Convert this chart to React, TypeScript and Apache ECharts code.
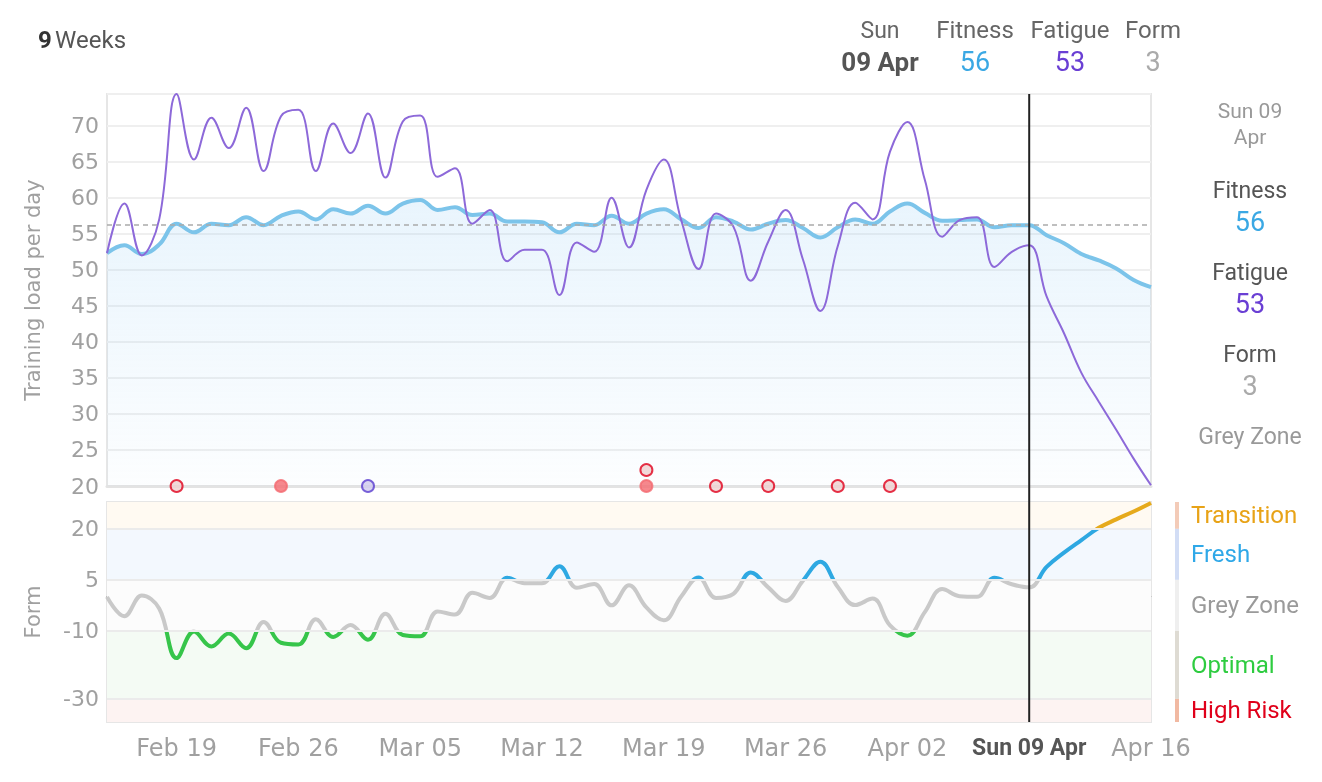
import React, { useEffect, useRef } from "react";
import * as echarts from "echarts";

// ---------- data ----------
const dates: string[] = [
  "Feb 15", "Feb 16", "Feb 17", "Feb 18", "Feb 19", "Feb 20", "Feb 21", "Feb 22", "Feb 23", "Feb 24",
  "Feb 25", "Feb 26", "Feb 27", "Feb 28", "Mar 01", "Mar 02", "Mar 03", "Mar 04", "Mar 05", "Mar 06",
  "Mar 07", "Mar 08", "Mar 09", "Mar 10", "Mar 11", "Mar 12", "Mar 13", "Mar 14", "Mar 15", "Mar 16",
  "Mar 17", "Mar 18", "Mar 19", "Mar 20", "Mar 21", "Mar 22", "Mar 23", "Mar 24", "Mar 25", "Mar 26",
  "Mar 27", "Mar 28", "Mar 29", "Mar 30", "Mar 31", "Apr 01", "Apr 02", "Apr 03", "Apr 04", "Apr 05",
  "Apr 06", "Apr 07", "Apr 08", "Apr 09", "Apr 10", "Apr 11", "Apr 12", "Apr 13", "Apr 14", "Apr 15",
  "Apr 16",
];

const fitness: number[] = [
  52.3, 53.4, 52.2, 53.5, 56.4, 55.2, 56.4, 56.2, 57.3, 56.2,
  57.5, 58.1, 57.0, 58.4, 57.8, 58.9, 57.8, 59.2, 59.7, 58.3,
  58.7, 57.6, 57.8, 56.7, 56.7, 56.6, 55.2, 56.4, 56.2, 57.5,
  56.4, 57.8, 58.4, 57.0, 55.8, 57.3, 56.7, 55.6, 56.4, 56.9,
  55.8, 54.5, 55.9, 57.0, 56.4, 58.1, 59.2, 57.9, 56.8, 56.9,
  57.0, 55.9, 56.2, 56.2, 54.8, 53.7, 52.2, 51.3, 50.2, 48.6,
  47.6,
];

const fatigue: number[] = [
  52.3, 59.2, 52.0, 57.0, 74.4, 65.3, 71.1, 66.9, 72.5, 63.7,
  71.3, 72.2, 63.7, 70.3, 66.2, 71.7, 62.8, 70.6, 71.4, 62.9,
  64.1, 56.4, 58.3, 51.2, 52.8, 52.8, 46.5, 53.8, 52.5, 60.0,
  53.1, 61.1, 65.3, 56.9, 50.1, 57.8, 56.0, 48.5, 53.9, 58.3,
  51.4, 44.3, 53.3, 59.3, 57.0, 66.4, 70.5, 62.5, 54.6, 56.9,
  57.3, 50.4, 52.5, 53.4, 46.3, 41.2, 35.7, 31.7, 27.8, 23.8,
  20.1,
];

const form: number[] = [
  0.0, -5.7, 0.4, -3.4, -18.0, -10.2, -14.6, -10.8, -15.1, -7.4,
  -13.5, -14.0, -6.6, -11.8, -8.3, -12.6, -5.0, -11.2, -11.6, -4.3,
  -5.2, 1.2, -0.3, 5.6, 4.0, 4.0, 9.0, 2.7, 3.8, -2.5,
  3.4, -3.1, -6.9, 0.1, 5.7, -0.3, 0.9, 7.2, 2.8, -1.2,
  4.8, 10.3, 2.9, -2.4, -0.5, -8.4, -11.4, -4.5, 2.3, 0.2,
  0.0, 5.6, 3.7, 2.8, 8.8, 13.0, 16.7, 20.3, 22.8, 25.1,
  27.6,
];

const weekTicks: string[] = ["Feb 19", "Feb 26", "Mar 05", "Mar 12", "Mar 19", "Mar 26", "Apr 02", "Apr 09", "Apr 16"];

const selectedDate = "Apr 09";
const selectedWeekday = "Sun";
const selectedDayLabel = "09 Apr";
const selectedAxisLabel = "Sun 09 Apr";
const rangeLabelCount = "9";
const rangeLabelUnit = "Weeks";

const loadMin = 20;
const loadMax = 74.4;
const loadInterval = 5;

const formMin = -36.8;
const formMax = 27.9;
const formTicks: number[] = [20, 5, -10, -30];

const zoneNames: string[] = ["Transition", "Fresh", "Grey Zone", "Optimal", "High Risk"];
const zoneLineColors: string[] = ["#e6aa1c", "#2ea8e2", "#c9c9c9", "#36c54a", "#e0001b"];
const zoneBandColors: string[] = ["#fffaf2", "#f3f8fe", "#fcfcfc", "#f4fbf4", "#fdf3f2"];
const zoneTextColors: string[] = ["#e8a317", "#2fa8e8", "#9a9a9a", "#2ecc40", "#e0001a"];
const zoneStripColors: string[] = ["#f3cbb8", "#d2ddf5", "#efefef", "#dedbd3", "#f1b9a2"];

const eventDates: string[] = ["Feb 19", "Feb 25", "Mar 02", "Mar 18", "Mar 18", "Mar 22", "Mar 25", "Mar 29", "Apr 01"];
const eventKinds: string[] = ["planned", "done", "other", "done", "planned", "planned", "planned", "planned", "planned"];

// ---------- component ----------
export default function App() {
  const ref = useRef<HTMLDivElement>(null);

  useEffect(() => {
    const chart = echarts.init(ref.current!, null, { renderer: "svg" });
    const uiFont = "Roboto, 'Noto Sans', sans-serif";
    const axisFont = "'DejaVu Sans', sans-serif";
    const selIdx = dates.indexOf(selectedDate);

    const zoneUpper = [formMax, ...formTicks];
    const zoneLower = [...formTicks, formMin];

    const zoneOf = (v: number) => {
      for (let k = 0; k < zoneNames.length; k++) if (v >= zoneLower[k]) return k;
      return zoneNames.length - 1;
    };

    const isTick = (_i: number, v: string) => weekTicks.includes(v);

    const eventStyles: Record<string, any> = {
      planned: { color: "#efd0d0", borderColor: "#e0001b", borderWidth: 2 },
      done: { color: "#f46a70", borderColor: "#f46a70", borderWidth: 2 },
      other: { color: "#cfcaee", borderColor: "#5a3dd0", borderWidth: 2 },
    };
    const seen: Record<string, number> = {};
    const eventData = eventDates.map((d, k) => {
      const level = seen[d] || 0;
      seen[d] = level + 1;
      return {
        value: [d, loadMin],
        symbolOffset: [0, -16 * level],
        itemStyle: eventStyles[eventKinds[k]],
      };
    });

    const option: any = {
      animation: false,
      textStyle: { fontFamily: uiFont },
      grid: [
        { left: 107, top: 94, width: 1044, height: 392, show: true, borderColor: "#e6e6e6", borderWidth: 2, backgroundColor: "transparent" },
        { left: 107, top: 502, width: 1044, height: 220, show: true, borderColor: "#e6e6e6", borderWidth: 2, backgroundColor: "transparent" },
      ],
      xAxis: [
        {
          type: "category", gridIndex: 0, data: dates, boundaryGap: false,
          axisLine: { show: true, lineStyle: { color: "#e3e3e3", width: 3 } },
          axisTick: { show: false }, axisLabel: { show: false }, splitLine: { show: false },
        },
        {
          type: "category", gridIndex: 1, data: dates, boundaryGap: false,
          axisLine: { show: true, lineStyle: { color: "#b3b3b3", width: 2 } },
          axisTick: { show: true, interval: isTick, length: 11, lineStyle: { color: "#e6e6e6", width: 2 } },
          axisLabel: {
            interval: isTick, margin: 14, fontSize: 24, color: "#a0a0a0", fontFamily: axisFont,
            formatter: (v: string) => (v === selectedDate ? `{sel|${selectedAxisLabel}}` : v),
            rich: { sel: { fontFamily: uiFont, fontWeight: "bold", fontSize: 23, color: "#555555" } },
          },
          splitLine: { show: false },
        },
      ],
      yAxis: [
        {
          type: "value", gridIndex: 0, min: loadMin, max: loadMax, interval: loadInterval,
          name: "Training load per day", nameLocation: "middle", nameGap: 64,
          nameTextStyle: { fontSize: 21, color: "#a0a0a0", fontFamily: axisFont },
          axisLine: { show: false }, axisTick: { show: false },
          axisLabel: { fontSize: 22, color: "#a0a0a0", margin: 8, showMaxLabel: false, fontFamily: axisFont },
          splitLine: { show: true, lineStyle: { color: "#efefef", width: 2 } },
        },
        {
          type: "value", gridIndex: 1, min: formMin, max: formMax,
          name: "Form", nameLocation: "middle", nameGap: 64,
          nameTextStyle: { fontSize: 21, color: "#a0a0a0", fontFamily: axisFont },
          axisLine: { show: false }, axisTick: { show: false, customValues: formTicks },
          axisLabel: { fontSize: 22, color: "#a0a0a0", margin: 8, customValues: formTicks, fontFamily: axisFont },
          splitLine: { show: false },
        },
      ],
      visualMap: [
        {
          show: false, type: "piecewise", seriesIndex: 2, dimension: 1,
          pieces: zoneNames.map((_n, k) => {
            const p: any = { color: zoneLineColors[k] };
            if (k < zoneNames.length - 1) p.gte = zoneLower[k];
            if (k > 0) p.lt = zoneUpper[k];
            return p;
          }),
        },
      ],
      series: [
        {
          name: "Fitness", type: "line", xAxisIndex: 0, yAxisIndex: 0, data: fitness,
          smooth: 0.4, symbol: "none", z: 3,
          lineStyle: { color: "#7cc4ea", width: 4 },
          areaStyle: {
            origin: "start",
            color: new echarts.graphic.LinearGradient(0, 0, 0, 1, [
              { offset: 0, color: "rgba(150,205,245,0.30)" },
              { offset: 1, color: "rgba(150,205,245,0.04)" },
            ]),
          },
          markLine: {
            silent: true, symbol: "none", label: { show: false },
            lineStyle: { color: "#aaaaaa", type: [5, 4], width: 1.5 },
            data: [{ yAxis: fitness[selIdx] }],
          },
        },
        {
          name: "Fatigue", type: "line", xAxisIndex: 0, yAxisIndex: 0, data: fatigue,
          smooth: 0.4, symbol: "none", z: 4,
          lineStyle: { color: "#8d69d9", width: 2 },
        },
        {
          name: "Form", type: "line", xAxisIndex: 1, yAxisIndex: 1, data: form,
          smooth: 0.4, symbol: "none", z: 4,
          lineStyle: { width: 4 },
          markArea: {
            silent: true,
            data: zoneNames.map((_n, k) => [
              { yAxis: zoneUpper[k], itemStyle: { color: zoneBandColors[k] } },
              { yAxis: zoneLower[k] },
            ]),
          },
          markLine: {
            silent: true, symbol: "none", label: { show: false },
            lineStyle: { color: "#ebebeb", type: "solid", width: 2 },
            data: formTicks.map((t) => ({ yAxis: t })),
          },
        },
        {
          name: "Events", type: "scatter", xAxisIndex: 0, yAxisIndex: 0, data: eventData,
          symbol: "circle", symbolSize: 12, clip: false, z: 10,
        },
      ],
    };

    chart.setOption(option);

    // ---------- overlay texts & markers positioned through the axes ----------
    const xSel = chart.convertToPixel({ xAxisIndex: 1 }, selectedDate) as number;
    const yTop = chart.convertToPixel({ yAxisIndex: 0 }, loadMax) as number;
    const yBot = chart.convertToPixel({ yAxisIndex: 1 }, formMin) as number;

    const txt = (text: string, x: number, y: number, size: number, fill: string, align = "center", weight = "normal") => ({
      type: "text", x, y, silent: true, z: 50,
      style: {
        text, fill, fontSize: size, fontFamily: uiFont, fontWeight: weight,
        textAlign: align, textVerticalAlign: "middle", align, verticalAlign: "middle",
      },
    });

    const fit = Math.round(fitness[selIdx]);
    const fat = Math.round(fatigue[selIdx]);
    const frm = Math.round(form[selIdx]);
    const zoneIdx = zoneOf(form[selIdx]);
    const [dayNum, monthName] = selectedDayLabel.split(" ");

    const graphics: any[] = [
      {
        type: "text", x: 38, y: 40, silent: true,
        style: {
          text: `{b|${rangeLabelCount}} {n|${rangeLabelUnit}}`,
          textVerticalAlign: "middle", verticalAlign: "middle",
          rich: {
            b: { fontSize: 24, fontWeight: "bold", fill: "#333333", color: "#333333", fontFamily: uiFont },
            n: { fontSize: 24, fill: "#555555", color: "#555555", fontFamily: uiFont },
          },
        },
      },
      txt(selectedWeekday, 880, 30, 23, "#666666"),
      txt(selectedDayLabel, 880, 62, 26, "#555555", "center", "bold"),
      txt("Fitness", 975, 30, 24, "#666666"),
      txt(String(fit), 975, 62, 27, "#3aa8e4"),
      txt("Fatigue", 1070, 30, 24, "#666666"),
      txt(String(fat), 1070, 62, 27, "#6a3fd4"),
      txt("Form", 1153, 30, 24, "#666666"),
      txt(String(frm), 1153, 62, 27, "#aaaaaa"),

      txt(`${selectedWeekday} ${dayNum}`, 1250, 111, 21, "#999999"),
      txt(monthName, 1250, 137, 21, "#999999"),
      txt("Fitness", 1250, 190, 23, "#555555"),
      txt(String(fit), 1250, 222, 27, "#3aa8e4"),
      txt("Fatigue", 1250, 272, 23, "#555555"),
      txt(String(fat), 1250, 304, 27, "#6a3fd4"),
      txt("Form", 1250, 354, 23, "#555555"),
      txt(String(frm), 1250, 386, 27, "#aaaaaa"),
      txt(zoneNames[zoneIdx], 1250, 436, 23, "#999999"),

      {
        type: "line", silent: true, z: 60,
        shape: { x1: xSel, y1: yTop, x2: xSel, y2: yBot },
        style: { stroke: "#222222", lineWidth: 2 },
      },
    ];

    zoneNames.forEach((name, k) => {
      const yU = chart.convertToPixel({ yAxisIndex: 1 }, zoneUpper[k]) as number;
      const yL = chart.convertToPixel({ yAxisIndex: 1 }, zoneLower[k]) as number;
      graphics.push({
        type: "rect", silent: true, z: 40,
        shape: { x: 1175, y: yU, width: 4, height: yL - yU },
        style: { fill: zoneStripColors[k] },
      });
      graphics.push(txt(name, 1191, (yU + yL) / 2, 24, zoneTextColors[k], "left"));
    });

    chart.setOption({ graphic: graphics });

    return () => chart.dispose();
  }, []);

  return <div ref={ref} style={{ position: "fixed", left: 0, top: 0, width: 1322, height: 782 }} />;
}
